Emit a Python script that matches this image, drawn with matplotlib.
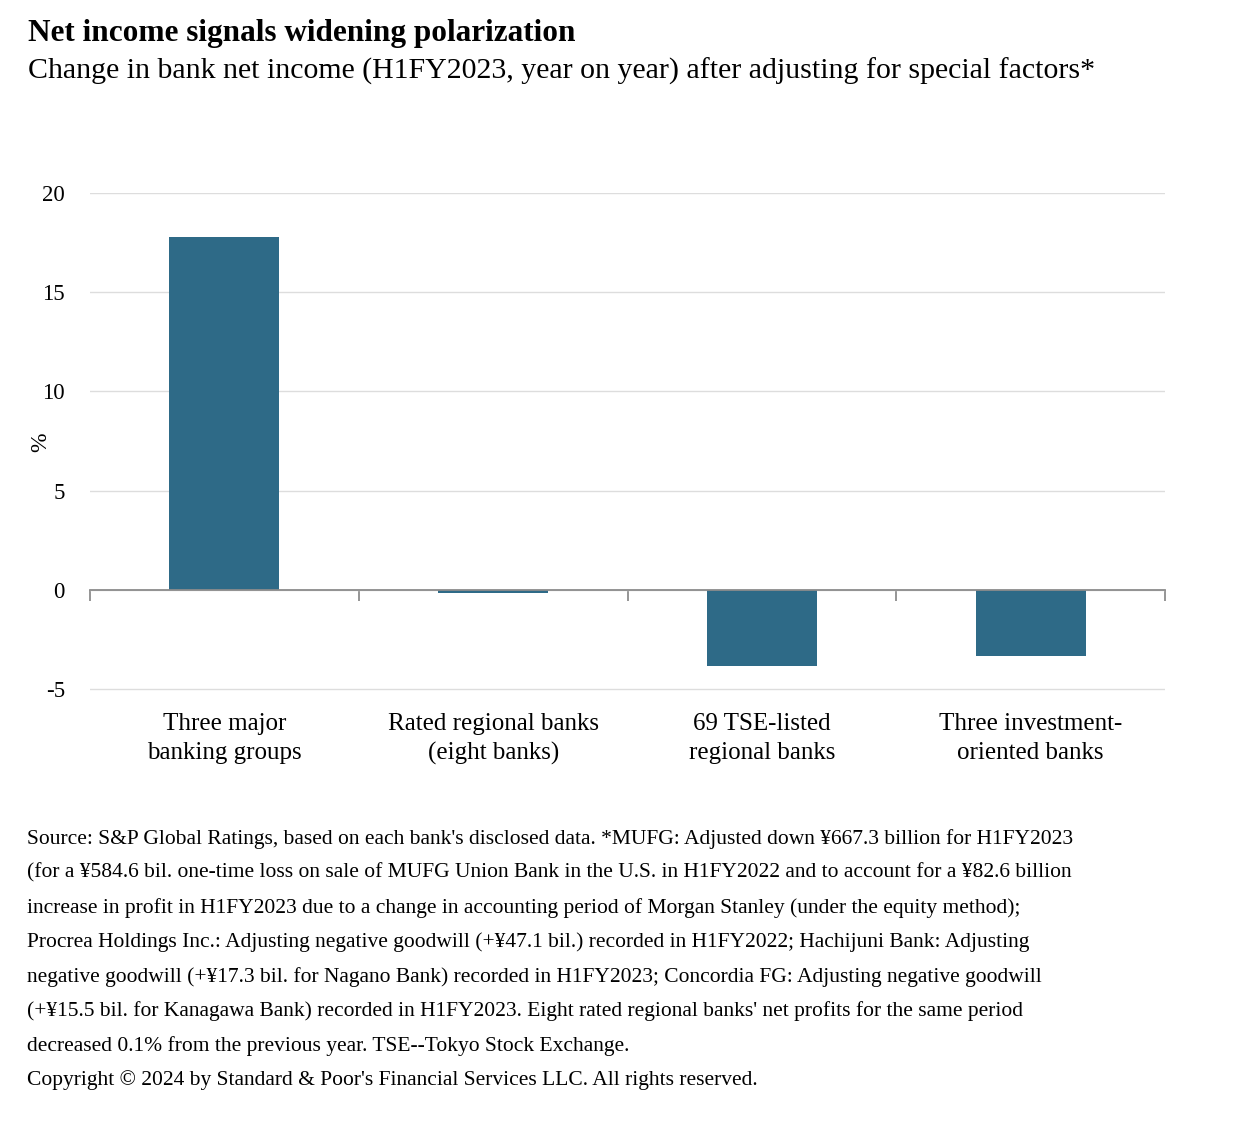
import matplotlib
matplotlib.use("Agg")
import matplotlib.pyplot as plt
import numpy as np

plt.rcParams['font.family'] = ['Liberation Serif', 'DejaVu Serif']

categories = ["Three major\nbanking groups", "Rated regional banks\n(eight banks)",
              "69 TSE-listed\nregional banks", "Three investment-\noriented banks"]
values = [17.8, -0.15, -3.85, -3.35]
yticks = [-5, 0, 5, 10, 15, 20]
ytick_labels = ["-5", "0", "5", "10", "15", "20"]

title = "Net income signals widening polarization"
subtitle = "Change in bank net income (H1FY2023, year on year) after adjusting for special factors*"
footnote_lines = [
    "Source: S&P Global Ratings, based on each bank's disclosed data. *MUFG: Adjusted down ¥667.3 billion for H1FY2023",
    "(for a ¥584.6 bil. one-time loss on sale of MUFG Union Bank in the U.S. in H1FY2022 and to account for a ¥82.6 billion",
    "increase in profit in H1FY2023 due to a change in accounting period of Morgan Stanley (under the equity method);",
    "Procrea Holdings Inc.: Adjusting negative goodwill (+¥47.1 bil.) recorded in H1FY2022; Hachijuni Bank: Adjusting",
    "negative goodwill (+¥17.3 bil. for Nagano Bank) recorded in H1FY2023; Concordia FG: Adjusting negative goodwill",
    "(+¥15.5 bil. for Kanagawa Bank) recorded in H1FY2023. Eight rated regional banks' net profits for the same period",
    "decreased 0.1% from the previous year. TSE--Tokyo Stock Exchange.",
    "Copyright © 2024 by Standard & Poor's Financial Services LLC. All rights reserved.",
]

W, H = 1256, 1126
fig = plt.figure(figsize=(W / 100, H / 100), dpi=100)
ax = fig.add_axes([90 / W, 1 - 691 / H, (1165 - 90) / W, (691 - 193) / H])

x = np.arange(len(categories))
ax.bar(x, values, width=0.41, color="#2e6a87", zorder=2)
ax.set_xlim(-0.5, len(categories) - 0.5)
ax.set_ylim(-5.1, 20)
ax.set_yticks(yticks)
ax.set_yticklabels(ytick_labels, fontsize=16.5)
ax.grid(axis="y", color="#dddddd", linewidth=1, zorder=0)
ax.set_axisbelow(True)
for s in ["top", "right", "left"]:
    ax.spines[s].set_visible(False)
ax.spines["bottom"].set_position(("data", 0))
ax.spines["bottom"].set_color("#8c8c8c")
ax.spines["bottom"].set_linewidth(1.3)
ax.spines["bottom"].set_zorder(3)
ax.tick_params(axis="y", length=0, pad=18)
ax.set_xticks(np.arange(-0.5, len(categories), 1.0))
ax.set_xticklabels([])
ax.tick_params(axis="x", length=8, color="#8c8c8c", width=1.3, direction="out")
for i, c in enumerate(categories):
    ax.text(i, -6.2, c, ha="center", va="top", fontsize=18, linespacing=1.4)
ax.set_ylabel("%", fontsize=17)
ax.yaxis.set_label_coords(-0.036, 0.5)

fig.text(28 / W, 1 - 33 / H, title, fontsize=22.5, fontweight="bold", va="center", ha="left")
fig.text(28 / W, 1 - 71 / H, subtitle, fontsize=21.5, va="center", ha="left")
ys = [839, 873, 908, 942, 977, 1011, 1046, 1080]
for y, line in zip(ys, footnote_lines):
    fig.text(27 / W, 1 - y / H, line, fontsize=15.5, va="center", ha="left")

fig.savefig("out.png", dpi=100)
